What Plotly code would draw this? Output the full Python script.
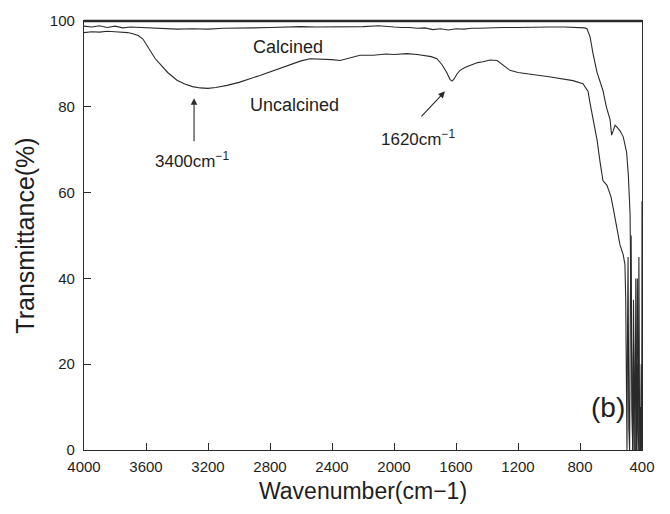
import plotly.graph_objects as go

# ---- data ----
wn_calcined = [4000, 3950, 3900, 3850, 3800, 3750, 3700, 3650, 3600, 3500, 3400, 3300, 3200, 3100,
               3000, 2900, 2800, 2700, 2600, 2500, 2400, 2300, 2200, 2100, 2050, 2000, 1950, 1900,
               1850, 1800, 1750, 1700, 1650, 1600, 1550, 1500, 1450, 1400, 1300, 1200, 1100, 1000,
               900, 820, 770, 755, 735, 716, 690, 652, 630, 606, 596, 585, 574, 560, 542, 521,
               499, 488, 477, 470, 465, 460, 455, 450, 445, 440, 435, 430, 425, 420, 415, 410,
               405, 402, 400]
t_calcined = [98.8, 98.6, 98.9, 98.5, 98.8, 98.4, 98.6, 98.5, 98.4, 98.2, 98.1, 98.2, 98.1, 98.3,
              98.3, 98.4, 98.5, 98.6, 98.7, 98.6, 98.6, 98.7, 98.7, 98.9, 98.7, 98.6, 98.5, 98.5,
              98.3, 98.4, 98.0, 98.2, 97.9, 98.2, 98.1, 98.3, 98.3, 98.4, 98.5, 98.5, 98.6, 98.6,
              98.6, 98.5, 98.4, 98.2, 96.3, 92.4, 88.0, 83.8, 80.0, 77.0, 73.4, 74.5, 75.7, 75.2,
              74.4, 73.0, 69.3, 64.0, 55.0, 30.0, 5.0, 0.0, 35.0, 10.0, 0.0, 40.0, 0.0, 20.0,
              0.0, 45.0, 0.0, 10.0, 0.0, 0.0, 58.0]

wn_uncalcined = [4000, 3950, 3900, 3850, 3800, 3750, 3720, 3690, 3650, 3620, 3580, 3540, 3510,
                 3460, 3400, 3350, 3300, 3250, 3200, 3150, 3077, 3000, 2865, 2750, 2652, 2600,
                 2542, 2450, 2400, 2348, 2300, 2260, 2219, 2135, 2050, 2000, 1916, 1850, 1800,
                 1760, 1723, 1690, 1660, 1639, 1625, 1610, 1595, 1574, 1540, 1500, 1460, 1426,
                 1380, 1335, 1300, 1252, 1200, 1150, 1058, 1000, 950, 900, 845, 781, 748, 735,
                 710, 690, 670, 652, 626, 600, 587, 560, 542, 521, 510, 505, 500, 497, 493, 490,
                 485, 480, 475, 470, 465, 460, 455, 450, 440, 430, 425, 420, 410, 405, 400]
t_uncalcined = [97.3, 97.5, 97.4, 97.6, 97.5, 97.4, 97.3, 97.1, 96.6, 95.8, 93.5, 91.2, 90.0,
                88.0, 86.2, 85.3, 84.7, 84.4, 84.3, 84.5, 85.0, 85.7, 87.3, 88.7, 90.0, 90.7,
                91.2, 91.1, 91.0, 90.8, 91.2, 91.6, 92.0, 92.0, 92.3, 92.2, 92.4, 92.2, 92.0,
                91.7, 91.2, 89.8, 88.0, 86.4, 86.0, 86.6, 87.6, 88.5, 89.2, 89.8, 90.3, 90.5,
                90.9, 90.8, 89.8, 88.5, 88.0, 87.8, 87.3, 87.0, 86.7, 86.5, 86.1, 85.4, 83.6,
                80.8, 76.0, 72.3, 67.0, 62.8, 61.7, 59.0, 56.6, 51.5, 47.8, 45.5, 43.2, 35.0,
                10.0, 0.0, 30.0, 45.0, 5.0, 0.0, 35.0, 50.0, 10.0, 0.0, 25.0, 0.0, 0.0, 40.0,
                5.0, 0.0, 0.0, 20.0, 0.0]

x_ticks = [4000, 3600, 3200, 2800, 2400, 2000, 1600, 1200, 800, 400]
y_ticks = [0, 20, 40, 60, 80, 100]

line_color = "#2b2b2b"
text_color = "#1e1e1e"
font_family = "Arial, Liberation Sans, sans-serif"

fig = go.Figure()
fig.add_trace(go.Scatter(x=wn_calcined, y=t_calcined, mode="lines",
                         line=dict(color=line_color, width=1.1), name="Calcined",
                         showlegend=False))
fig.add_trace(go.Scatter(x=wn_uncalcined, y=t_uncalcined, mode="lines",
                         line=dict(color=line_color, width=1.1), name="Uncalcined",
                         showlegend=False))

annotations = [
    dict(x=2684, y=94.0, text="Calcined", showarrow=False,
         font=dict(size=18, color=text_color, family=font_family)),
    dict(x=2645, y=80.4, text="Uncalcined", showarrow=False,
         font=dict(size=18, color=text_color, family=font_family)),
    dict(x=3303, y=67.7, text="3400cm<sup>−1</sup>", showarrow=False,
         font=dict(size=17, color=text_color, family=font_family)),
    dict(x=1845, y=72.7, text="1620cm<sup>−1</sup>", showarrow=False,
         font=dict(size=17, color=text_color, family=font_family)),
    dict(x=620, y=9.9, text="(b)", showarrow=False,
         font=dict(size=28, color=text_color, family=font_family)),
    # arrows
    dict(x=3290, y=82.0, ax=3290, ay=71.6, axref="x", ayref="y", xref="x", yref="y",
         text="", showarrow=True, arrowhead=2, arrowsize=1.2, arrowwidth=1.1,
         arrowcolor=line_color),
    dict(x=1671, y=83.6, ax=1832, ay=77.4, axref="x", ayref="y", xref="x", yref="y",
         text="", showarrow=True, arrowhead=2, arrowsize=1.2, arrowwidth=1.1,
         arrowcolor=line_color),
]

fig.update_layout(
    width=670, height=514,
    margin=dict(l=84, r=28, t=17, b=64),
    paper_bgcolor="white", plot_bgcolor="white",
    font=dict(family=font_family, color=text_color),
    annotations=annotations,
    shapes=[dict(type="line", xref="paper", yref="paper", x0=0, x1=1, y0=1, y1=1,
                 line=dict(color=line_color, width=2.5))],
)
fig.update_xaxes(
    range=[4000, 400], tickvals=x_ticks, ticktext=[str(v) for v in x_ticks],
    ticks="inside", ticklen=7, tickwidth=1.2, tickcolor=line_color,
    showline=True, linecolor=line_color, linewidth=1.3, mirror=True,
    showgrid=False, zeroline=False,
    tickfont=dict(size=15, color=text_color), ticklabelstandoff=3,
    title=dict(text="Wavenumber(cm−1)", font=dict(size=23, color=text_color), standoff=8),
)
fig.update_yaxes(
    range=[0, 100], tickvals=y_ticks, ticktext=[str(v) for v in y_ticks],
    ticks="inside", ticklen=7, tickwidth=1.2, tickcolor=line_color,
    showline=True, linecolor=line_color, linewidth=1.3, mirror=True,
    showgrid=False, zeroline=False,
    tickfont=dict(size=15, color=text_color), ticklabelstandoff=5,
    title=dict(text="Transmittance(%)", font=dict(size=25, color=text_color), standoff=8),
)

fig.write_html("out.html")
